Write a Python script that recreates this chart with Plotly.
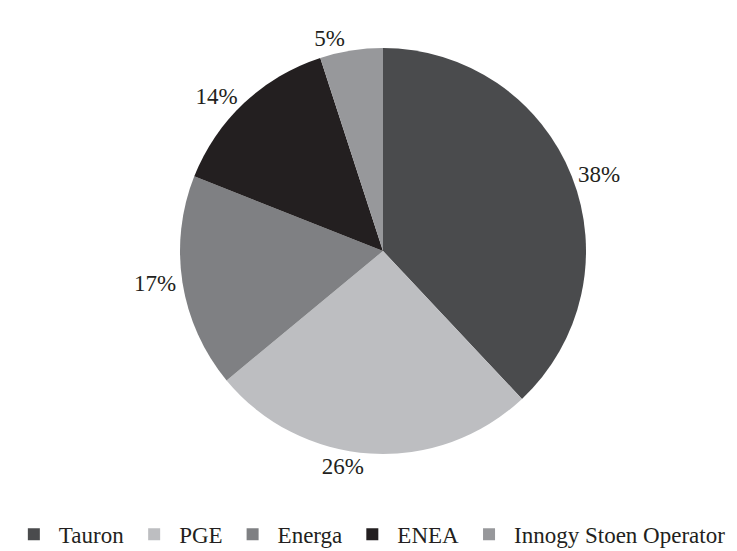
import plotly.graph_objects as go

labels = ["Tauron", "PGE", "Energa", "ENEA", "Innogy Stoen Operator"]
values = [38, 26, 17, 14, 5]
colors = ["#4a4b4d", "#bdbec1", "#7f8083", "#231f20", "#97989b"]

FONT = "Liberation Serif, Times New Roman, serif"
W, H = 737, 551

fig = go.Figure(go.Pie(
    labels=labels,
    values=values,
    sort=False,
    direction="clockwise",
    rotation=0,
    domain=dict(x=[180 / W, 586 / W], y=[0, 1]),
    marker=dict(colors=colors, line=dict(width=0)),
    texttemplate="%{value}%",
    textposition="outside",
    textfont=dict(family=FONT, size=23, color="#231f20"),
    hoverinfo="label+percent",
))

fig.update_layout(
    width=W,
    height=H,
    margin=dict(l=0, r=0, t=48, b=97, autoexpand=False),
    paper_bgcolor="white",
    plot_bgcolor="white",
    font=dict(family=FONT, size=23, color="#231f20"),
    showlegend=True,
    legend=dict(
        orientation="h",
        x=0.012, xanchor="left",
        y=-0.198, yanchor="middle",
        font=dict(family=FONT, size=23, color="#231f20"),
        traceorder="normal",
        itemwidth=40,
    ),
)

fig.write_html("out.html")
